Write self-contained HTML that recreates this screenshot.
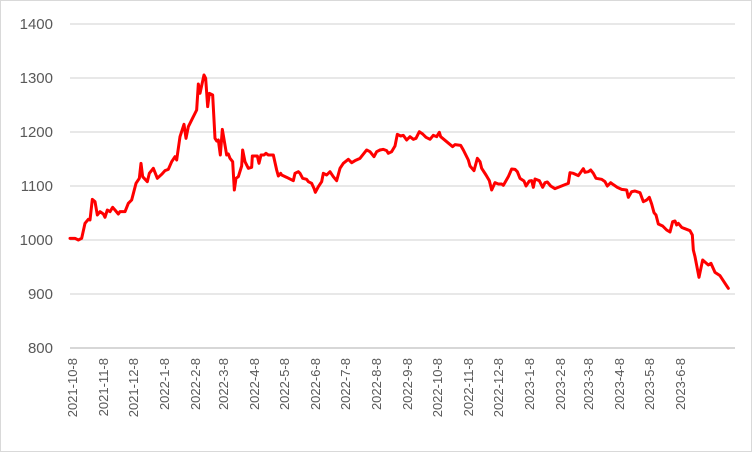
<!DOCTYPE html>
<html><head><style>
html,body{margin:0;padding:0;background:#fff}
svg{display:block;font-family:"Liberation Sans",sans-serif}
</style></head><body>
<svg width="752" height="452" viewBox="0 0 752 452" xmlns="http://www.w3.org/2000/svg">
<rect x="0.5" y="0.5" width="751" height="451" fill="#fff" stroke="#d9d9d9"/>
<g stroke="#d9d9d9" stroke-width="1.3">
<line x1="70" x2="735" y1="24" y2="24"/><line x1="70" x2="735" y1="78" y2="78"/>
<line x1="70" x2="735" y1="132" y2="132"/><line x1="70" x2="735" y1="186" y2="186"/>
<line x1="70" x2="735" y1="240" y2="240"/><line x1="70" x2="735" y1="294" y2="294"/>
<line x1="70" x2="735" y1="348" y2="348" stroke="#bfbfbf"/>
</g>
<g fill="#595959" font-size="15" text-anchor="end">
<text x="53" y="29">1400</text><text x="53" y="83">1300</text><text x="53" y="137">1200</text>
<text x="53" y="191">1100</text><text x="53" y="245">1000</text><text x="53" y="299">900</text><text x="53" y="353">800</text>
</g>
<g fill="#595959" font-size="13" text-anchor="end">
<text transform="translate(77,358) rotate(-90)">2021-10-8</text>
<text transform="translate(108,358) rotate(-90)">2021-11-8</text>
<text transform="translate(138,358) rotate(-90)">2021-12-8</text>
<text transform="translate(169,358) rotate(-90)">2022-1-8</text>
<text transform="translate(200,358) rotate(-90)">2022-2-8</text>
<text transform="translate(228,358) rotate(-90)">2022-3-8</text>
<text transform="translate(259,358) rotate(-90)">2022-4-8</text>
<text transform="translate(289,358) rotate(-90)">2022-5-8</text>
<text transform="translate(320,358) rotate(-90)">2022-6-8</text>
<text transform="translate(350,358) rotate(-90)">2022-7-8</text>
<text transform="translate(381,358) rotate(-90)">2022-8-8</text>
<text transform="translate(412,358) rotate(-90)">2022-9-8</text>
<text transform="translate(442,358) rotate(-90)">2022-10-8</text>
<text transform="translate(473,358) rotate(-90)">2022-11-8</text>
<text transform="translate(503,358) rotate(-90)">2022-12-8</text>
<text transform="translate(534,358) rotate(-90)">2023-1-8</text>
<text transform="translate(565,358) rotate(-90)">2023-2-8</text>
<text transform="translate(593,358) rotate(-90)">2023-3-8</text>
<text transform="translate(624,358) rotate(-90)">2023-4-8</text>
<text transform="translate(654,358) rotate(-90)">2023-5-8</text>
<text transform="translate(685,358) rotate(-90)">2023-6-8</text>
</g>
<g fill="none" stroke="#ff0000" stroke-width="3" stroke-linejoin="round" stroke-linecap="round">
<polyline vector-effect="non-scaling-stroke" transform="translate(60,60) scale(0.33333)" points="30,535 45,535 55,540 65,535 75,490 85,478 90,480 97,418 105,425 112,465 120,455 130,462 135,472 142,450 150,455 158,442 165,450 175,462 180,455 195,455 205,430 215,420 228,370 238,355 243,310 248,350 262,365 268,340 280,325 292,355 305,343 315,332 325,328 335,305 345,290 350,300 360,230 372,193 378,235 385,200 410,150 415,72 420,100 432,45 437,55 443,140 448,100 458,105 465,235 470,243 475,240 481,285 487,208 500,285 505,282 510,295 518,305 523,390 528,355 535,350 545,318 548,270 555,305 565,325 575,322 577,288 592,288 597,310 603,285 612,285 618,280 625,285 640,285 650,330 655,348 662,340 665,345 680,352 700,362 705,340 715,335 720,340 728,355 740,358 745,365 755,370 762,385 766,397 775,380 785,365 790,340 800,345 810,335 820,350 830,362 840,325 850,310 865,298 875,308 885,302 900,295 920,270 930,275 942,290 950,275 960,270"/>
<polyline vector-effect="non-scaling-stroke" transform="translate(380,110) scale(0.33333)" points="0,120 10,118 20,122 25,130 35,125 45,108 52,73 62,78 70,76 80,90 90,80 100,88 108,85 118,65 128,72 138,82 150,88 160,76 170,80 178,67 182,80 200,95 218,110 225,104 242,106 250,120 265,150 270,168 282,182 292,145 300,155 305,175 318,195 328,212 335,240 345,218 355,222 365,222 370,226 385,200 395,177 405,178 412,185 420,205 432,213 438,228 448,213 455,212 460,232 465,207 478,212 488,232 495,218 502,216 512,228 525,236 540,230 555,224 565,220 570,188 580,190 595,197 610,176 615,187 625,185 632,180 640,190 648,205 665,208 675,215 682,228 692,218 700,224 712,232 725,238 740,240 745,262 755,245 765,243 780,248 790,275 800,270 808,262 815,282 822,308 828,315 835,342 848,348 860,360 870,366 878,335 885,333 890,345 895,340 905,352 912,355 930,362 937,375 940,420 945,440 957,502 968,450 985,465 993,460 1005,487 1020,497 1035,520 1045,535"/>
</g>
</svg>
</body></html>
